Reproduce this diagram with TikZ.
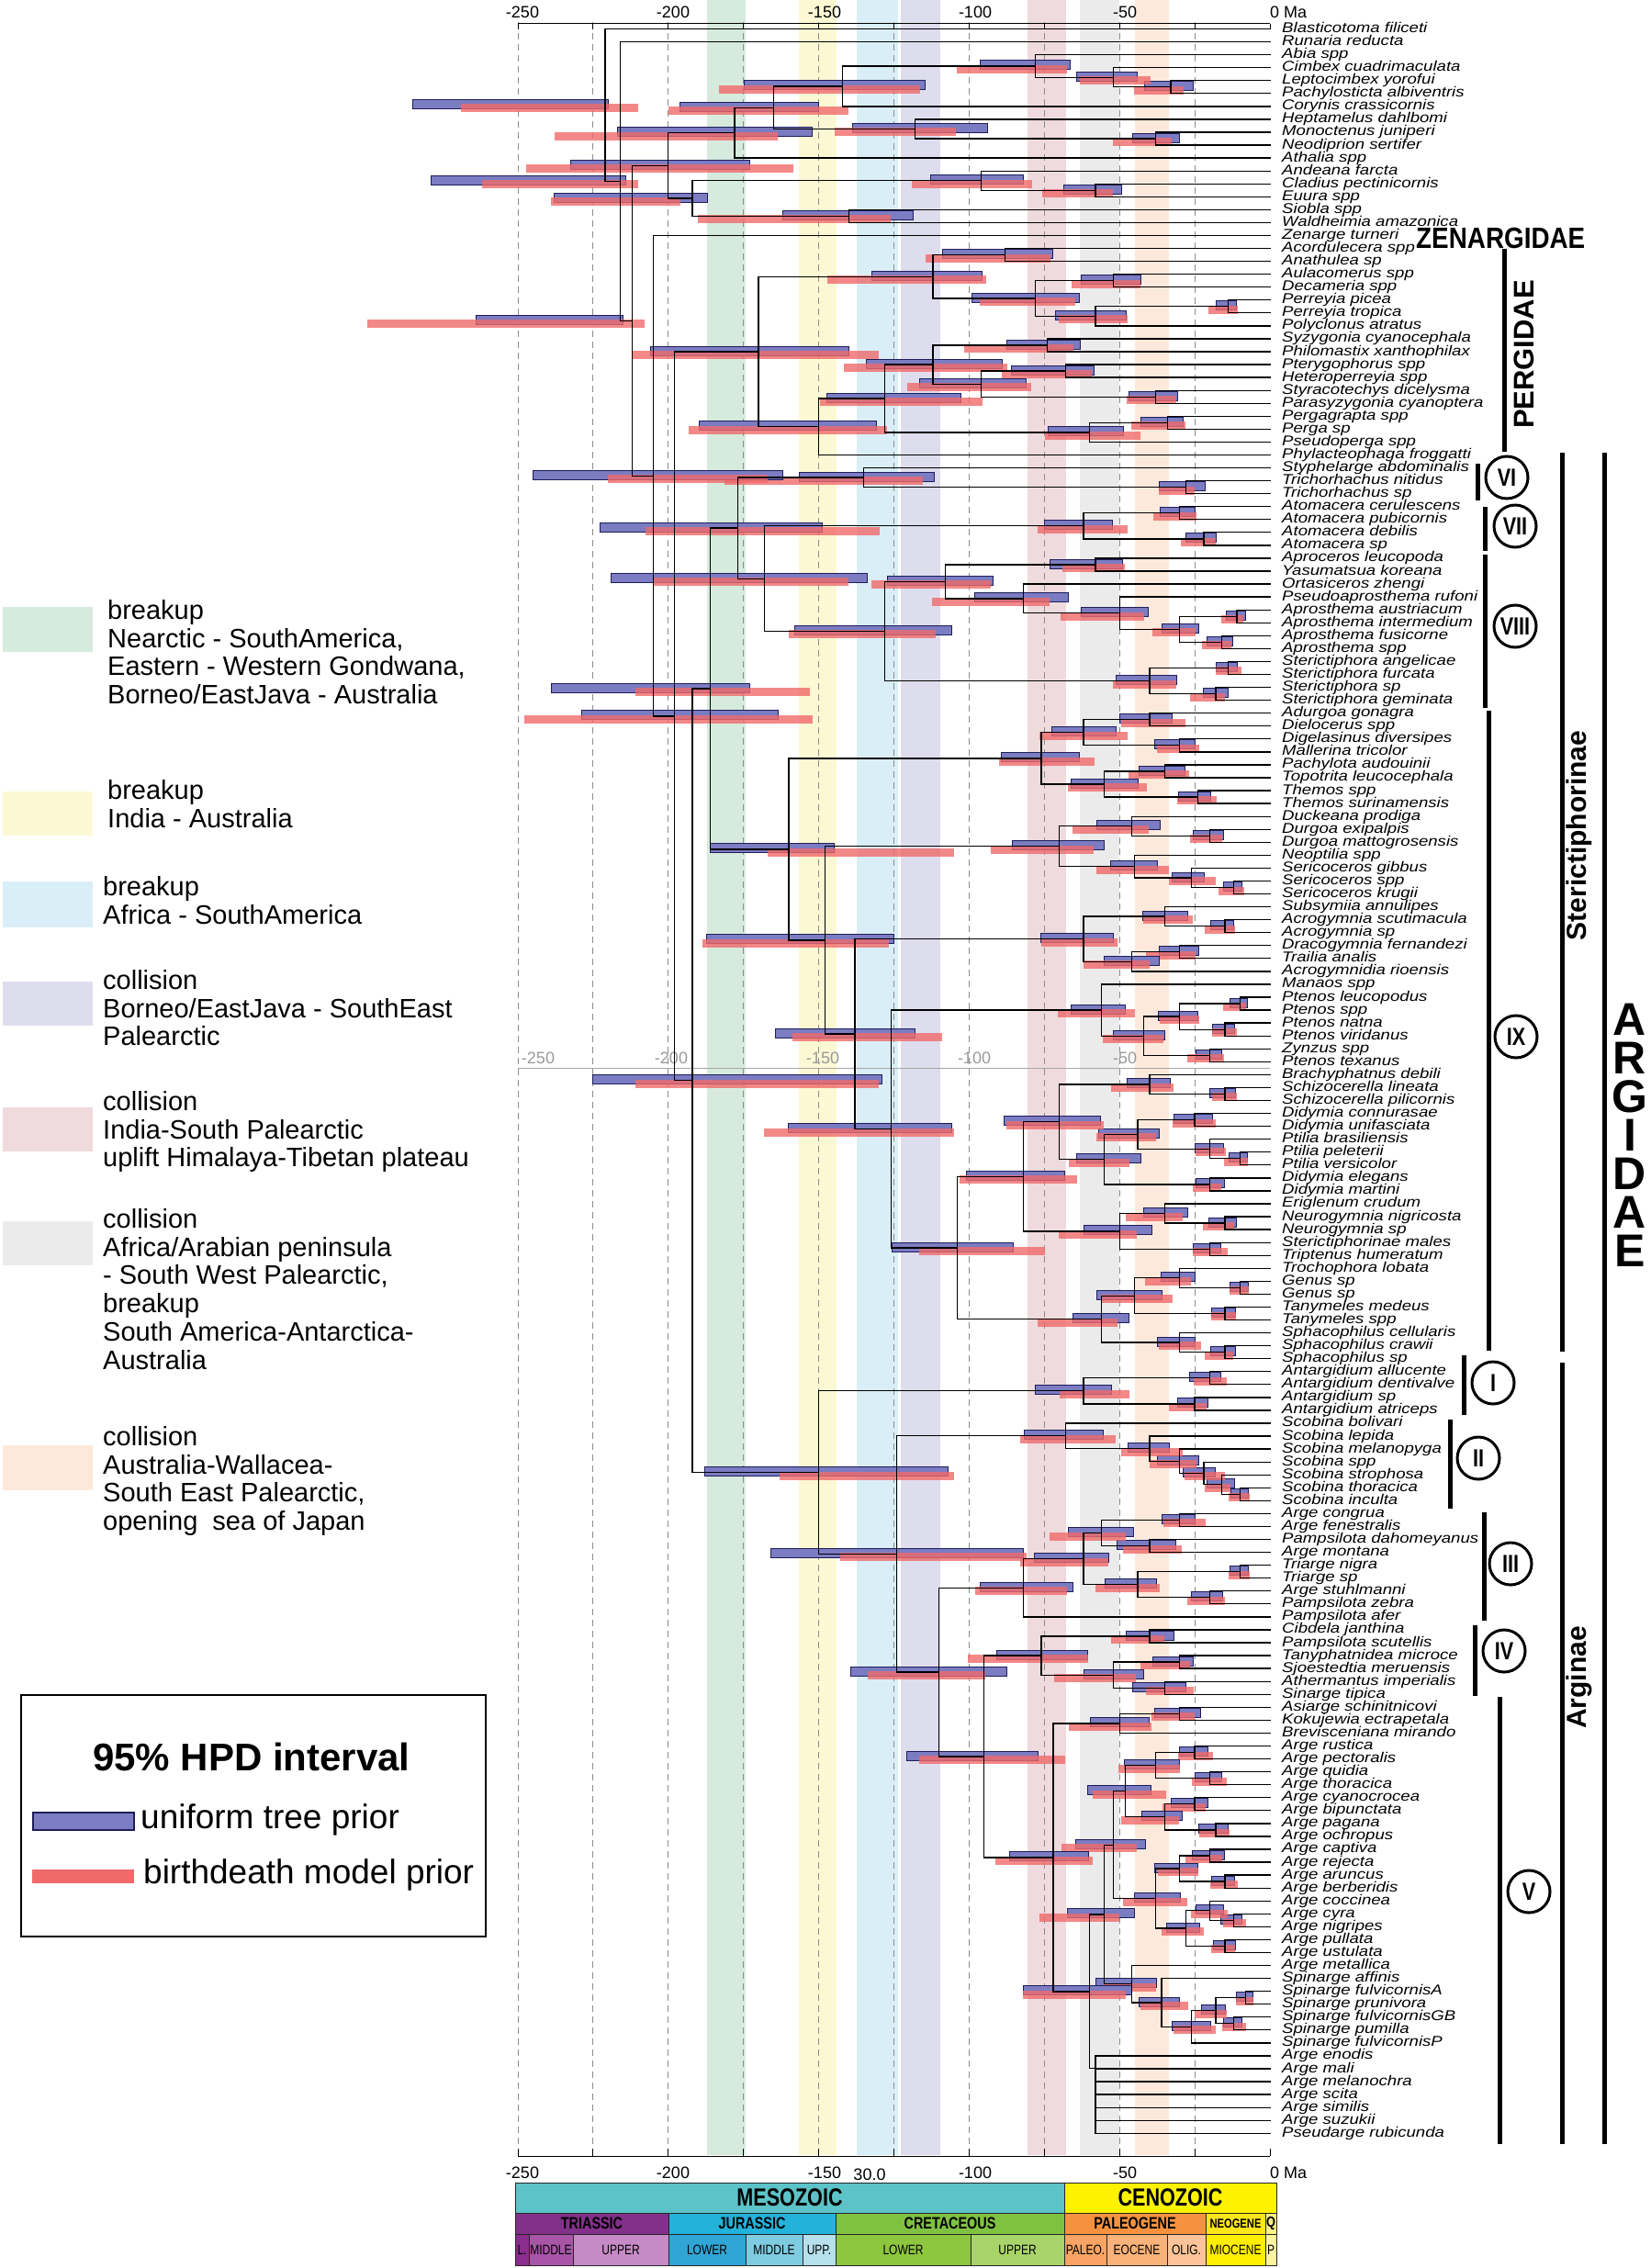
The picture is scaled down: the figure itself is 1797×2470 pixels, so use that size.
\documentclass[tikz,border=0pt]{standalone}
\usepackage{fontspec}
\setmainfont{Liberation Sans}
\newfontfamily\taxfont[FakeStretch=1.2]{Liberation Sans}
\newfontfamily\narrowfont[FakeStretch=0.8]{Liberation Sans}
\newfontfamily\cladefont[FakeStretch=0.87]{Liberation Sans}
\usetikzlibrary{calc}

\definecolor{bandgreen}{HTML}{D6EBDD}
\definecolor{bandyellow}{HTML}{FCF8D4}
\definecolor{bandblue}{HTML}{D9EEF7}
\definecolor{bandlav}{HTML}{DEDDEE}
\definecolor{bandrose}{HTML}{EFDADD}
\definecolor{bandgrey}{HTML}{EBEBEB}
\definecolor{bandpeach}{HTML}{FDE9DB}
\definecolor{hpdblue}{HTML}{7B7CC2}
\definecolor{hpdline}{HTML}{1E1E5A}
\definecolor{hpdred}{HTML}{F06A6A}
\definecolor{meso}{HTML}{5CC3C8}
\definecolor{ceno}{HTML}{FFF200}
\definecolor{trias}{HTML}{82308A}
\definecolor{juras}{HTML}{22B2DA}
\definecolor{creta}{HTML}{7FC241}
\definecolor{paleo}{HTML}{F6923F}
\definecolor{neo}{HTML}{FFE619}
\definecolor{quat}{HTML}{FFF385}
\definecolor{trlow}{HTML}{8B2D8C}
\definecolor{trmid}{HTML}{A855A8}
\definecolor{trupp}{HTML}{C68AC6}
\definecolor{julow}{HTML}{2FA6D6}
\definecolor{jumid}{HTML}{7FCCE0}
\definecolor{juupp}{HTML}{B6E0EC}
\definecolor{crlow}{HTML}{8DC63F}
\definecolor{crupp}{HTML}{A8D46A}
\definecolor{paleoc}{HTML}{F9A464}
\definecolor{eocene}{HTML}{FAB27B}
\definecolor{oligo}{HTML}{FCC498}
\definecolor{mioc}{HTML}{FFEE00}
\definecolor{plio}{HTML}{FFF3A0}

\pgfdeclarelayer{bands}
\pgfdeclarelayer{bars}
\pgfsetlayers{bands,bars,main}

\tikzset{
  taxon/.style={anchor=west, inner xsep=12pt, inner ysep=0pt, text height=11pt, text depth=3pt,
    font=\taxfont\itshape\fontsize{15.5}{15}\selectfont},
  branch/.style={line width=1.3pt},
  gridline/.style={black!45, line width=0.9pt, dash pattern=on 7pt off 5pt},
  uniform/.style={draw=hpdline, fill=hpdblue, line width=0.9pt},
  birthdeath/.style={fill=hpdred, fill opacity=0.8},
  legendtext/.style={anchor=north west, align=left, inner sep=0pt, font=\fontsize{29}{30.8}\selectfont},
  scalelabel/.style={inner sep=0pt, font=\fontsize{18}{18}\selectfont},
  cladebar/.style={line width=5pt},
  numeral/.style={circle, draw, line width=3pt, minimum size=46pt, inner sep=0pt,
    font=\narrowfont\bfseries\fontsize{27}{27}\selectfont},
  rankname/.style={inner sep=0pt, font=\bfseries\fontsize{29}{29}\selectfont},
  geo/.style={draw=black!85, line width=0.8pt, inner sep=0pt},
}

% HPD bars round a node: node, age, blue old, blue young, red old, red young
\newcommand\bars[6]{%
  \begin{pgfonlayer}{bars}
    \draw[uniform] ($(#1)+({3.276*(#2-#3)},-6)$) rectangle ($(#1)+({3.276*(#2-#4)},4)$);
    \fill[birthdeath] ($(#1)+({3.276*(#2-#5)},-1)$) rectangle ($(#1)+({3.276*(#2-#6)},8)$);
  \end{pgfonlayer}
}
% one internal node, no bars: name, age (Ma), two children
\newcommand\cln[4]{%
  \pgfmathsetmacro\nx{1383-3.276*#2}
  \path ($(#3)!0.5!(#4)$) coordinate (mid) (\nx,0) coordinate (top);
  \coordinate (#1) at (top |- mid);
  \draw[branch] (#3) -- (#3 -| #1) -- (#4 -| #1) -- (#4);
}
% one internal node with given bars
\newcommand\clx[8]{%
  \cln{#1}{#2}{#3}{#4}
  \bars{#1}{#2}{#5}{#6}{#7}{#8}
}
% one internal node, bars spread from its age
\newcommand\cl[4]{%
  \pgfmathsetmacro\ba{#2*(1.14+0.12*rnd)+1.5}
  \pgfmathsetmacro\bb{max(#2*(0.88-0.08*rnd)-1,0.3)}
  \pgfmathsetmacro\rs{#2*0.08*rand}
  \pgfmathsetmacro\ra{#2*(1.17+0.15*rnd)+\rs+2}
  \pgfmathsetmacro\rb{max(#2*(0.87-0.08*rnd)+\rs-1,0.2)}
  \clx{#1}{#2}{#3}{#4}{\ba}{\bb}{\ra}{\rb}
}

\begin{document}
\begin{tikzpicture}[x=1pt,y=-1pt]
\pgfmathsetseed{11}
\useasboundingbox (0,0) rectangle (1797,2470);

% event bands and grid
\begin{pgfonlayer}{bands}
\foreach \a/\b/\c in {770/812/bandgreen, 870/911/bandyellow, 933/978/bandblue, 981/1024/bandlav,
    1119/1161/bandrose, 1176/1219/bandgrey, 1236/1273/bandpeach}
  \fill[\c] (\a,0) rectangle (\b,2347);
\foreach \k in {0,...,9}
  \draw[gridline] ({564+81.9*\k},24) -- ({564+81.9*\k},2347);
\end{pgfonlayer}

% time axes
\draw[line width=1pt] (564,26) -- (1383,26);
\draw[line width=1pt] (564,2348) -- (1383,2348);
\foreach \k in {0,...,10} {
  \draw[line width=1pt] ({564+81.9*\k},26) -- ++(0,6);
  \draw[line width=1pt] ({564+81.9*\k},2348) -- ++(0,-8);
}
\foreach \v/\x [count=\k] in {-250/569, -200/733, -150/898, -100/1062, -50/1225, 0/1388} {
  \node[scalelabel] (top\k) at (\x,13) {\v};
  \node[scalelabel] (bot\k) at (\x,2366) {\v};
}
\node[scalelabel, anchor=west] (topma) at (1398,13) {Ma};
\node[scalelabel, anchor=west] (botma) at (1398,2366) {Ma};
\node[scalelabel] (odd) at (947,2368) {30.0};
\draw[black!35, line width=0.8pt] (564,1163) -- (1383,1163);
\foreach \v/\x [count=\k] in {-250/586, -200/731, -150/896, -100/1061, -50/1225}
  \node[scalelabel, text=black!40] (mid\k) at (\x,1152) {\v};

% taxa
\foreach \tx [count=\i] in {Blasticotoma filiceti, Runaria reducta, Abia spp, Cimbex cuadrimaculata,
  Leptocimbex yorofui, Pachylosticta albiventris, Corynis crassicornis, Heptamelus dahlbomi,
  Monoctenus juniperi, Neodiprion sertifer, Athalia spp, Andeana farcta, Cladius pectinicornis,
  Euura spp, Siobla spp, Waldheimia amazonica, Zenarge turneri, Acordulecera spp, Anathulea sp,
  Aulacomerus spp, Decameria spp, Perreyia picea, Perreyia tropica, Polyclonus atratus,
  Syzygonia cyanocephala, Philomastix xanthophilax, Pterygophorus spp, Heteroperreyia spp,
  Styracotechys dicelysma, Parasyzygonia cyanoptera, Pergagrapta spp, Perga sp, Pseudoperga spp,
  Phylacteophaga froggatti, Styphelarge abdominalis, Trichorhachus nitidus, Trichorhachus sp,
  Atomacera cerulescens, Atomacera pubicornis, Atomacera debilis, Atomacera sp, Aproceros leucopoda,
  Yasumatsua koreana, Ortasiceros zhengi, Pseudoaprosthema rufoni, Aprosthema austriacum,
  Aprosthema intermedium, Aprosthema fusicorne, Aprosthema spp, Sterictiphora angelicae,
  Sterictiphora furcata, Sterictiphora sp, Sterictiphora geminata, Adurgoa gonagra, Dielocerus spp,
  Digelasinus diversipes, Mallerina tricolor, Pachylota audouinii, Topotrita leucocephala,
  Themos spp, Themos surinamensis, Duckeana prodiga, Durgoa exipalpis, Durgoa mattogrosensis,
  Neoptilia spp, Sericoceros gibbus, Sericoceros spp, Sericoceros krugii, Subsymiia annulipes,
  Acrogymnia scutimacula, Acrogymnia sp, Dracogymnia fernandezi, Trailia analis,
  Acrogymnidia rioensis, Manaos spp, Ptenos leucopodus, Ptenos spp, Ptenos natna, Ptenos viridanus,
  Zynzus spp, Ptenos texanus, Brachyphatnus debili, Schizocerella lineata, Schizocerella pilicornis,
  Didymia connurasae, Didymia unifasciata, Ptilia brasiliensis, Ptilia peleterii, Ptilia versicolor,
  Didymia elegans, Didymia martini, Eriglenum crudum, Neurogymnia nigricosta, Neurogymnia sp,
  Sterictiphorinae males, Triptenus humeratum, Trochophora lobata, Genus sp, Genus sp,
  Tanymeles medeus, Tanymeles spp, Sphacophilus cellularis, Sphacophilus crawii, Sphacophilus sp,
  Antargidium allucente, Antargidium dentivalve, Antargidium sp, Antargidium atriceps,
  Scobina bolivari, Scobina lepida, Scobina melanopyga, Scobina spp, Scobina strophosa,
  Scobina thoracica, Scobina inculta, Arge congrua, Arge fenestralis, Pampsilota dahomeyanus,
  Arge montana, Triarge nigra, Triarge sp, Arge stuhlmanni, Pampsilota zebra, Pampsilota afer,
  Cibdela janthina, Pampsilota scutellis, Tanyphatnidea microce, Sjoestedtia meruensis,
  Athermantus imperialis, Sinarge tipica, Asiarge schinitnicovi, Kokujewia ectrapetala,
  Brevisceniana mirando, Arge rustica, Arge pectoralis, Arge quidia, Arge thoracica,
  Arge cyanocrocea, Arge bipunctata, Arge pagana, Arge ochropus, Arge captiva, Arge rejecta,
  Arge aruncus, Arge berberidis, Arge coccinea, Arge cyra, Arge nigripes, Arge pullata,
  Arge ustulata, Arge metallica, Spinarge affinis, Spinarge fulvicornisA, Spinarge prunivora,
  Spinarge fulvicornisGB, Spinarge pumilla, Spinarge fulvicornisP, Arge enodis, Arge mali,
  Arge melanochra, Arge scita, Arge similis, Arge suzukii, Pseudarge rubicunda}
  \node[taxon] (t\i) at (1384,{31.5+(\i-1)*14.06}) {\tx};

% outgroups
\cl{pach}{33}{t5}{t6}
\cl{cimx}{52}{t4}{pach}
\cl{cimb}{78}{t3}{cimx}
\cl{cory}{142}{t7}{cimb}
\cl{dipr}{38}{t9}{t10}
\cl{hept}{118}{t8}{dipr}
\clx{cidi}{165}{cory}{hept}{196}{150}{200}{140}
\cl{atha}{178}{t11}{cidi}
\cl{clad}{58}{t13}{t14}
\cl{ande}{96}{t12}{clad}
\cl{siob}{140}{t15}{t16}
\clx{tent}{192}{ande}{siob}{238}{187}{239}{196}
\cl{outa}{200}{atha}{tent}
% Pergidae
\cl{acor}{88}{t18}{t19}
\cl{aula}{52}{t20}{t21}
\cl{perr}{14}{t22}{t23}
\cl{poly}{58}{perr}{t24}
\cl{pe1}{78}{aula}{poly}
\cl{pe2}{112}{acor}{pe1}
\cl{syzy}{74}{t25}{t26}
\cl{pter}{68}{t27}{t28}
\cl{styr}{38}{t29}{t30}
\cl{pe3}{96}{pter}{styr}
\cl{pe4}{112}{syzy}{pe3}
\cl{perg}{34}{t31}{t32}
\cl{pseu}{60}{perg}{t33}
\cl{pe5}{128}{pe4}{pseu}
\cl{pe6}{150}{pe5}{t34}
\clx{pergidae}{170}{pe2}{pe6}{206}{140}{212}{130}
% Sterictiphorinae VI--VIII
\cl{tric}{28}{t36}{t37}
\cl{vi}{135}{t35}{tric}
\cl{ato1}{30}{t38}{t39}
\cl{ato2}{22}{t40}{t41}
\cl{vii}{62}{ato1}{ato2}
\cl{apr1}{58}{t42}{t43}
\cl{apr2}{11}{t46}{t47}
\cl{apr3}{16}{t48}{t49}
\cl{apr4}{30}{apr2}{apr3}
\cl{apr5}{50}{t45}{apr4}
\cl{apr6}{82}{t44}{apr5}
\cl{apr7}{108}{apr1}{apr6}
\cl{ste1}{14}{t50}{t51}
\cl{ste2}{18}{t52}{t53}
\cl{ste3}{40}{ste1}{ste2}
\cl{viii}{128}{apr7}{ste3}
\clx{vii8}{168}{vii}{viii}{219}{134}{205}{140}
\cl{vi8}{177}{vi}{vii8}
% IX
\cl{adu}{40}{t54}{t55}
\cl{dig}{30}{t56}{t57}
\cl{ix1}{62}{adu}{dig}
\cl{pac}{35}{t58}{t59}
\cl{the}{24}{t60}{t61}
\cl{ix2}{55}{pac}{the}
\cl{ix3}{76}{ix1}{ix2}
\cl{dur}{20}{t63}{t64}
\cl{duc}{46}{t62}{dur}
\cl{ser1}{12}{t67}{t68}
\cl{ser2}{26}{t66}{ser1}
\cl{neo}{45}{t65}{ser2}
\cl{ixc}{70}{duc}{neo}
\cl{acr1}{15}{t70}{t71}
\cl{acr2}{35}{t69}{acr1}
\cl{tra}{30}{t72}{t73}
\cl{acr3}{46}{tra}{t74}
\cl{ixe}{62}{acr2}{acr3}
\cl{pte1}{10}{t76}{t77}
\cl{pte2}{15}{t78}{t79}
\cl{pte3}{30}{pte1}{pte2}
\cl{zyn}{20}{t80}{t81}
\cl{pte4}{42}{pte3}{zyn}
\cl{man}{56}{t75}{pte4}
\cl{sch}{15}{t83}{t84}
\cl{bra}{40}{t82}{sch}
\cl{did1}{25}{t85}{t86}
\cl{pti1}{10}{t88}{t89}
\cl{pti2}{20}{t87}{pti1}
\cl{did2}{44}{did1}{pti2}
\cl{did3}{20}{t90}{t91}
\cl{did4}{55}{did2}{did3}
\cl{ix7}{70}{bra}{did4}
\cl{neu1}{15}{t93}{t94}
\cl{neu2}{35}{t92}{neu1}
\cl{tri}{20}{t95}{t96}
\cl{neu3}{50}{neu2}{tri}
\cl{ix8}{82}{ix7}{neu3}
\cl{gen1}{10}{t98}{t99}
\cl{gen2}{30}{t97}{gen1}
\cl{tan}{15}{t100}{t101}
\cl{gen3}{45}{gen2}{tan}
\cl{sph1}{15}{t103}{t104}
\cl{sph2}{30}{t102}{sph1}
\cl{gen4}{56}{gen3}{sph2}
\cl{ix9}{104}{ix8}{gen4}
\cl{ixf}{126}{man}{ix9}
\cl{ixd}{138}{ixe}{ixf}
\cl{ixb}{148}{ixc}{ixd}
\clx{ix}{160}{ix3}{ixb}{186}{145}{167}{105}
\clx{steric}{186}{vi8}{ix}{239}{173}{211}{153}
% Arginae
\cl{ant1}{20}{t105}{t106}
\cl{ant2}{25}{t107}{t108}
\cl{i}{62}{ant1}{ant2}
\cl{sco1}{10}{t114}{t115}
\cl{sco2}{16}{t113}{sco1}
\cl{sco3}{22}{t112}{sco2}
\cl{sco4}{30}{t111}{sco3}
\cl{sco5}{40}{t110}{sco4}
\cl{ii}{68}{t109}{sco5}
\cl{ar1}{30}{t116}{t117}
\cl{ar2}{40}{t118}{t119}
\cl{ar3}{56}{ar1}{ar2}
\cl{tri1}{10}{t120}{t121}
\cl{ar4}{20}{t122}{t123}
\cl{ar5}{44}{tri1}{ar4}
\cl{ar6}{62}{ar3}{ar5}
\cl{iii}{82}{ar6}{t124}
\cl{cib}{40}{t125}{t126}
\cl{tan2}{30}{t127}{t128}
\cl{ath}{35}{t129}{t130}
\cl{iv1}{52}{tan2}{ath}
\cl{iv}{76}{cib}{iv1}
\cl{asi}{30}{t131}{t132}
\cl{bre}{50}{asi}{t133}
\cl{v1}{25}{t134}{t135}
\cl{v2}{20}{t136}{t137}
\cl{v3}{38}{v1}{v2}
\cl{v4}{25}{t138}{t139}
\cl{v5}{18}{t140}{t141}
\cl{v6}{35}{v4}{v5}
\cl{v7}{48}{v3}{v6}
\cl{v8}{20}{t142}{t143}
\cl{v9}{15}{t144}{t145}
\cl{v10}{30}{v8}{v9}
\cl{v11}{12}{t147}{t148}
\cl{v12}{20}{t146}{v11}
\cl{v13}{15}{t149}{t150}
\cl{v14}{28}{v12}{v13}
\cl{v15}{38}{v10}{v14}
\cl{v16}{52}{v7}{v15}
\cl{spi1}{8}{t153}{t154}
\cl{spi2}{12}{t155}{t156}
\cl{spi3}{18}{spi1}{spi2}
\cl{spi4}{26}{spi3}{t157}
\cl{spi5}{36}{t152}{spi4}
\cl{spi6}{46}{t151}{spi5}
\cl{v17}{55}{v16}{spi6}
\cln{com1}{58}{t163}{t164}
\cln{com2}{58}{t162}{com1}
\cln{com3}{58}{t161}{com2}
\cln{com4}{58}{t160}{com3}
\cln{com5}{58}{t159}{com4}
\cln{com6}{58}{t158}{com5}
\clx{v18}{60}{v17}{com6}{82}{46}{82}{48}
\cl{v}{72}{bre}{v18}
\cl{ivv}{95}{iv}{v}
\cl{iiiv}{110}{iii}{ivv}
\clx{iiv}{124}{ii}{iiiv}{166}{82}{143}{81}
\clx{argin}{150}{i}{iiv}{188}{107}{163}{105}
% backbone
\clx{argidae}{192}{steric}{argin}{225}{129}{211}{130}
\cl{pa}{198}{pergidae}{argidae}
\clx{argo}{205}{t17}{pa}{245}{162}{220}{167}
\clx{rest2}{212}{outa}{argo}{264}{215}{300}{208}
\clx{rest}{216}{t2}{rest2}{279}{214}{262}{210}
\clx{root}{221}{t1}{rest}{285}{220}{269}{210}

% clade marks
\node[rankname, font=\cladefont\bfseries\fontsize{32}{32}\selectfont, anchor=west] (zen) at (1542,259) {ZENARGIDAE};
\draw[cladebar] (1638,271) -- (1638,492);
\node[rankname, rotate=90, font=\bfseries\fontsize{31}{31}\selectfont] (perg) at (1660,386) {PERGIDAE};
\foreach \n/\bx/\ya/\yb/\cx/\cy in {VI/1609/505/545/1641/520, VII/1617/552/600/1650/573,
    VIII/1617/604/771/1650/682, IX/1621/774/1471/1651/1129, I/1594/1476/1541/1626/1506,
    II/1579/1546/1643/1610/1588, III/1616/1647/1765/1645/1703, IV/1606/1770/1847/1638/1798,
    V/1633/1848/2335/1665/2060} {
  \draw[cladebar] (\bx,\ya) -- (\bx,\yb);
  \node[numeral] (sub\n) at (\cx,\cy) {\n};
}
\draw[cladebar] (1701,493) -- (1701,1472);
\draw[cladebar] (1701,1484) -- (1701,2335);
\draw[cladebar] (1747,493) -- (1747,2335);
\node[rankname, rotate=90, font=\bfseries\fontsize{30}{30}\selectfont] (steric) at (1720,910) {Sterictiphorinae};
\node[rankname, rotate=90, font=\bfseries\fontsize{30}{30}\selectfont] (argin) at (1720,1827) {Arginae};
\node[rankname, align=center, font=\bfseries\fontsize{50}{42}\selectfont] (argword) at (1775,1236)
  {A\\R\\G\\I\\D\\A\\E};

% event legend
\foreach \c/\ya/\yb in {bandgreen/661/710, bandyellow/862/910, bandblue/960/1010, bandlav/1069/1117,
    bandrose/1206/1254, bandgrey/1330/1378, bandpeach/1574/1623}
  \fill[\c] (3,\ya) rectangle (101,\yb);
\node[legendtext] (ev1) at (117,653) {breakup\\Nearctic - SouthAmerica,\\Eastern - Western Gondwana,\\Borneo/EastJava - Australia};
\node[legendtext] (ev2) at (117,849) {breakup\\India - Australia};
\node[legendtext] (ev3) at (112,954) {breakup\\Africa - SouthAmerica};
\node[legendtext] (ev4) at (112,1056) {collision\\Borneo/EastJava - SouthEast\\Palearctic};
\node[legendtext] (ev5) at (112,1188) {collision\\India-South Palearctic\\uplift Himalaya-Tibetan plateau};
\node[legendtext] (ev6) at (112,1316) {collision\\Africa/Arabian peninsula\\ - South West Palearctic,\\breakup\\South America-Antarctica-\\Australia};
\node[legendtext] (ev7) at (112,1553) {collision\\Australia-Wallacea-\\South East Palearctic,\\opening\ \ sea of Japan};

% HPD legend
\draw[line width=1.2pt] (23,1846) rectangle (529,2109);
\node[inner sep=0pt, font=\bfseries\fontsize{42}{42}\selectfont] (hpdtitle) at (274,1913) {95\% HPD interval};
\draw[uniform, line width=2pt] (36,1974) rectangle (146,1993);
\fill[hpdred] (35,2036) rectangle (146,2051);
\node[inner sep=0pt, anchor=west, font=\fontsize{37}{37}\selectfont] (uni) at (153,1982) {uniform tree prior};
\node[inner sep=0pt, anchor=west, font=\fontsize{37}{37}\selectfont] (bd) at (156,2042) {birthdeath model prior};

% geological time scale
\foreach \a/\b/\c/\t [count=\k] in {561/1159/meso/MESOZOIC, 1159/1390/ceno/CENOZOIC}
  \node[geo, fill=\c, minimum width={(\b-\a)*1pt}, minimum height=33pt,
    font=\narrowfont\bfseries\fontsize{27}{27}\selectfont] (era\k) at ({(\a+\b)/2},2393.5) {\t};
\foreach \a/\b/\c/\t/\s [count=\k] in {561/728/trias/TRIASSIC/18, 728/910/juras/JURASSIC/18,
    910/1159/creta/CRETACEOUS/18, 1159/1313/paleo/PALEOGENE/18, 1313/1378/neo/NEOGENE/14, 1378/1390/quat/Q/16}
  \node[geo, fill=\c, minimum width={(\b-\a)*1pt}, minimum height=23pt,
    font=\narrowfont\bfseries\fontsize{\s}{\s}\selectfont] (per\k) at ({(\a+\b)/2},2421.5) {\t};
\foreach \a/\b/\c/\t [count=\k] in {561/576/trlow/L., 576/624/trmid/MIDDLE, 624/728/trupp/UPPER,
    728/812/julow/LOWER, 812/874/jumid/MIDDLE, 874/910/juupp/UPP., 910/1057/crlow/LOWER,
    1057/1159/crupp/UPPER, 1159/1205/paleoc/PALEO., 1205/1271/eocene/EOCENE, 1271/1313/oligo/OLIG.,
    1313/1378/mioc/MIOCENE, 1378/1390/plio/P}
  \node[geo, fill=\c, minimum width={(\b-\a)*1pt}, minimum height=34pt,
    font=\narrowfont\fontsize{15}{15}\selectfont] (ep\k) at ({(\a+\b)/2},2450) {\t};
\end{tikzpicture}
\end{document}
